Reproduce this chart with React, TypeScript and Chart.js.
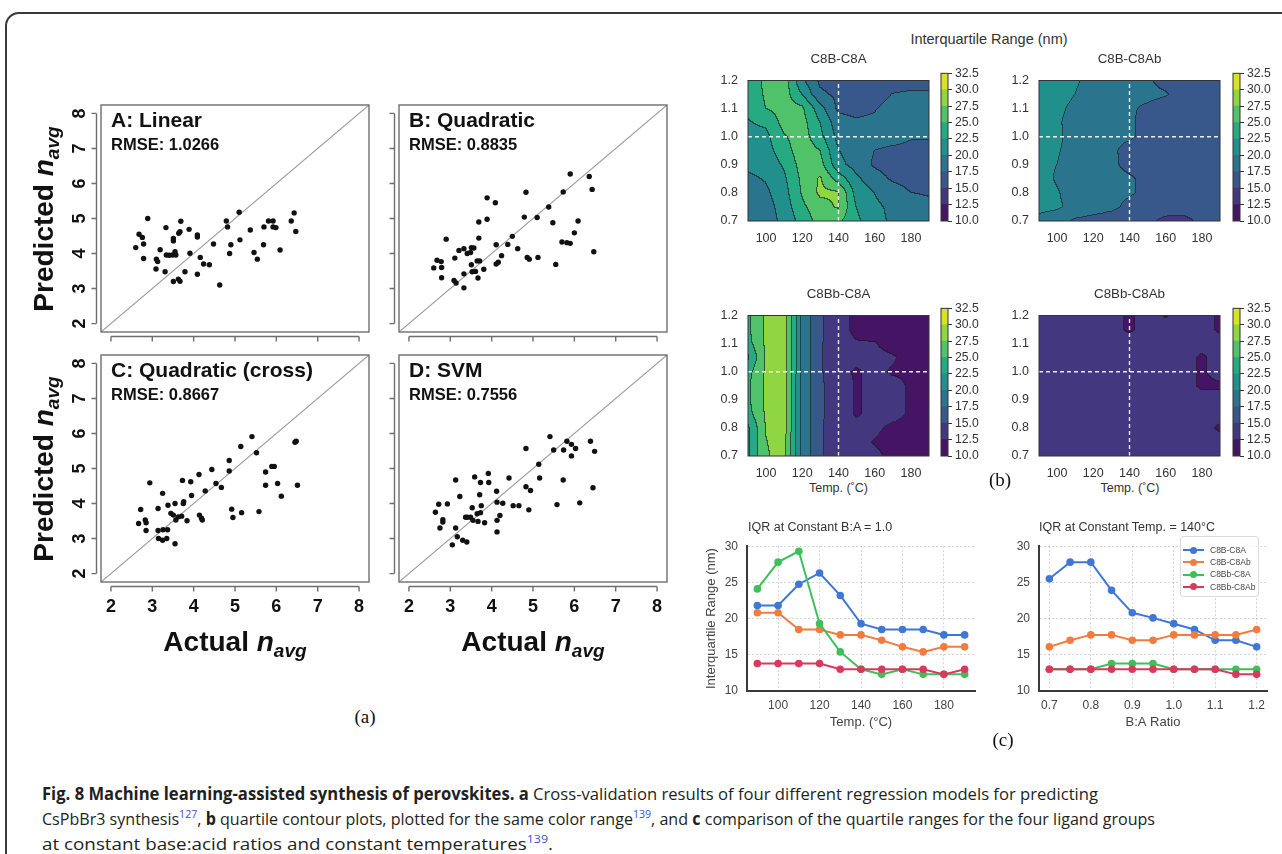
import React, { useEffect, useLayoutEffect, useRef } from 'react';
import { Chart, registerables } from 'chart.js';

Chart.register(...registerables);

/* ================= (a) cross-validation scatter data ================= */
const AXIS_TICKS_A = [2, 3, 4, 5, 6, 7, 8];
const AXIS_MIN_A = 1.76;
const AXIS_MAX_A = 8.24;

const LINEAR_ACTUAL = [2.60, 2.68, 2.76, 2.79, 2.79, 2.89, 3.09, 3.10, 3.13, 3.19, 3.33, 3.31, 3.34, 3.41, 3.49, 3.51, 3.51, 3.55, 3.57, 3.51, 3.63, 3.67, 3.64, 3.69, 3.67, 3.79, 3.89, 3.91, 4.09, 4.09, 4.09, 4.16, 4.24, 4.38, 4.48, 4.63, 4.79, 4.82, 4.87, 4.90, 5.10, 5.12, 5.37, 5.46, 5.54, 5.69, 5.70, 5.81, 5.92, 5.92, 5.99, 6.09, 6.36, 6.43, 6.47];
const LINEAR_PRED = [4.17, 4.55, 4.46, 4.27, 3.86, 5.00, 3.56, 3.84, 3.77, 4.11, 4.74, 3.48, 3.96, 3.95, 3.96, 4.36, 4.43, 4.05, 3.96, 3.20, 3.27, 3.21, 4.58, 4.92, 4.62, 3.48, 4.69, 4.01, 4.53, 4.47, 3.41, 3.89, 3.70, 3.68, 4.27, 3.10, 4.93, 4.76, 4.00, 4.25, 5.18, 4.39, 4.67, 4.03, 3.84, 4.25, 4.76, 4.93, 4.93, 4.76, 4.74, 4.10, 4.93, 5.16, 4.63];

const QUAD_ACTUAL = [2.60, 2.68, 2.78, 2.79, 2.79, 2.90, 3.09, 3.14, 3.11, 3.21, 3.33, 3.33, 3.33, 3.41, 3.49, 3.51, 3.51, 3.53, 3.57, 3.61, 3.65, 3.67, 3.69, 3.69, 3.71, 3.81, 3.89, 3.89, 4.09, 4.11, 4.11, 4.16, 4.24, 4.39, 4.50, 4.63, 4.79, 4.83, 4.86, 4.91, 5.10, 5.12, 5.38, 5.48, 5.55, 5.70, 5.73, 5.82, 5.90, 5.90, 6.00, 6.09, 6.36, 6.43, 6.47];
const QUAD_PRED = [3.59, 3.81, 3.77, 3.60, 3.31, 4.41, 3.23, 3.16, 3.87, 4.09, 4.14, 3.42, 3.02, 4.00, 4.03, 3.68, 4.17, 3.48, 4.16, 3.49, 3.79, 3.30, 4.90, 4.44, 3.79, 3.55, 5.59, 4.98, 5.45, 4.25, 3.70, 3.75, 3.94, 4.26, 4.49, 4.14, 5.04, 5.75, 3.89, 3.84, 5.03, 3.89, 5.33, 4.88, 3.69, 4.33, 5.76, 4.31, 6.27, 4.29, 4.59, 4.93, 6.20, 5.83, 4.05];

const CROSS_ACTUAL = [2.67, 2.72, 2.83, 2.85, 2.85, 2.94, 3.14, 3.14, 3.25, 3.26, 3.37, 3.38, 3.45, 3.51, 3.55, 3.57, 3.63, 3.71, 3.73, 3.75, 3.76, 3.84, 3.93, 3.95, 4.13, 4.14, 4.19, 4.21, 4.28, 4.44, 4.54, 4.67, 4.86, 4.86, 4.92, 4.95, 5.14, 5.16, 5.41, 5.52, 5.58, 5.74, 5.74, 5.89, 5.95, 6.03, 6.12, 6.45, 6.48, 6.51, 3.25, 3.35, 3.55, 3.15];
const CROSS_PRED = [3.43, 3.83, 3.53, 3.45, 3.23, 4.59, 3.86, 3.23, 4.29, 3.25, 3.25, 3.95, 3.72, 3.67, 4.00, 3.53, 3.62, 3.64, 4.66, 4.00, 4.05, 3.51, 4.62, 4.23, 4.83, 3.67, 3.58, 3.53, 4.36, 4.97, 4.57, 4.46, 5.23, 4.93, 3.84, 3.60, 5.63, 3.74, 5.91, 5.45, 3.77, 4.90, 4.52, 5.06, 5.06, 4.57, 4.21, 5.75, 5.78, 4.52, 2.95, 3.00, 2.85, 3.00];

const SVM_ACTUAL = [2.64, 2.72, 2.82, 2.82, 2.93, 3.13, 3.13, 3.17, 3.23, 3.37, 3.41, 3.49, 3.53, 3.55, 3.59, 3.65, 3.67, 3.71, 3.73, 3.73, 3.75, 3.83, 3.92, 3.93, 4.12, 4.13, 4.13, 4.13, 4.20, 4.27, 4.42, 4.52, 4.66, 4.83, 4.83, 4.90, 4.94, 5.14, 5.16, 5.41, 5.50, 5.58, 5.73, 5.74, 5.82, 5.93, 5.93, 6.03, 6.13, 6.39, 6.45, 6.49, 3.05, 3.30, 3.40, 2.75];
const SVM_PRED = [3.75, 3.98, 3.54, 3.47, 3.99, 4.67, 3.30, 3.05, 4.20, 3.61, 3.61, 3.61, 3.88, 3.52, 4.76, 3.71, 3.49, 4.25, 4.60, 3.74, 3.94, 3.45, 4.86, 4.60, 4.35, 4.04, 3.52, 3.19, 3.66, 4.01, 4.73, 3.94, 3.94, 5.57, 4.48, 3.82, 4.37, 5.12, 4.73, 5.91, 5.53, 3.97, 4.67, 5.53, 5.78, 5.69, 5.36, 5.57, 4.02, 5.78, 4.45, 5.49, 2.82, 2.95, 2.90, 3.30];

const PANEL_TITLES = ['A: Linear', 'B: Quadratic', 'C: Quadratic (cross)', 'D: SVM'];
const PANEL_RMSE = ['RMSE: 1.0266', 'RMSE: 0.8835', 'RMSE: 0.8667', 'RMSE: 0.7556'];

/* ================= (b) contour data (IQR, nm) ================= */
const TEMPS = [90, 100, 110, 120, 130, 140, 150, 160, 170, 180, 190];
const MAP_RATIOS = [1.2, 1.15, 1.1, 1.05, 1.0, 0.95, 0.9, 0.85, 0.8, 0.75, 0.7]; // rows, top to bottom
const LEVELS = [10, 12.5, 15, 17.5, 20, 22.5, 25, 27.5, 30, 32.5];
const LEVEL_COLORS = ['#451465', '#433880', '#38588c', '#2b748e', '#21908d', '#26aa82', '#50c26a', '#90d542', '#d8e22b'];
const MAP_X_TICKS = [100, 120, 140, 160, 180];
const MAP_Y_TICKS = [0.7, 0.8, 0.9, 1.0, 1.1, 1.2];
const CUT_TEMP = 140;
const CUT_RATIO = 1.0;

const GROUPS = ['C8B-C8A', 'C8B-C8Ab', 'C8Bb-C8A', 'C8Bb-C8Ab'];

const IQR_C8B_C8A = [
  [23.5, 25.5, 26.5, 20.5, 17.0, 16.1, 16.0, 16.0, 16.0, 16.0, 16.0],
  [23.5, 25.3, 26.3, 22.5, 18.0, 17.0, 16.5, 16.3, 17.6, 18.0, 18.0],
  [23.0, 25.0, 26.0, 25.5, 21.0, 17.0, 16.8, 17.3, 18.5, 18.5, 18.5],
  [22.3, 23.0, 25.8, 26.0, 22.5, 18.5, 17.8, 18.0, 18.3, 18.3, 18.3],
  [21.8, 21.8, 24.75, 26.3, 23.2, 19.3, 18.5, 18.5, 18.5, 17.75, 17.75],
  [21.0, 21.5, 23.8, 26.5, 25.0, 20.1, 18.5, 17.5, 17.0, 16.8, 16.8],
  [20.5, 21.0, 22.8, 26.0, 26.0, 20.8, 19.0, 17.2, 16.5, 16.5, 16.5],
  [19.5, 20.2, 22.0, 25.5, 27.8, 23.9, 20.5, 18.5, 17.2, 16.8, 16.8],
  [18.5, 19.5, 21.5, 25.2, 28.0, 27.8, 21.5, 20.0, 18.5, 17.5, 17.3],
  [18.0, 19.0, 21.0, 24.5, 26.5, 27.8, 22.5, 20.5, 19.5, 18.5, 18.0],
  [18.0, 19.0, 20.5, 23.5, 26.0, 25.5, 23.0, 21.0, 19.5, 19.0, 18.5],
];
const IQR_C8B_C8AB = [
  [21.0, 20.8, 20.2, 19.5, 19.0, 18.5, 17.8, 16.8, 16.5, 16.5, 16.5],
  [21.0, 20.8, 20.0, 19.3, 18.5, 17.75, 18.0, 17.7, 16.5, 16.5, 16.5],
  [20.8, 20.5, 19.5, 19.0, 18.5, 17.75, 17.2, 16.5, 16.3, 16.3, 16.3],
  [20.6, 20.3, 19.2, 18.8, 18.2, 17.75, 17.0, 16.3, 16.0, 16.0, 16.0],
  [20.8, 20.8, 18.5, 18.5, 17.75, 17.75, 17.0, 16.1, 15.4, 16.1, 16.1],
  [20.6, 20.3, 18.8, 18.5, 17.8, 17.0, 16.5, 16.2, 16.0, 16.0, 16.0],
  [20.6, 20.0, 18.8, 18.3, 17.9, 17.0, 16.5, 16.2, 16.0, 16.0, 16.0],
  [20.8, 19.8, 18.8, 18.3, 18.0, 17.75, 17.0, 16.3, 16.0, 16.0, 16.0],
  [21.0, 20.2, 19.0, 18.5, 18.0, 17.75, 17.0, 16.5, 16.2, 16.0, 16.0],
  [21.0, 20.5, 19.0, 18.5, 18.0, 17.0, 16.5, 16.3, 16.0, 16.0, 16.0],
  [19.0, 18.2, 17.2, 16.8, 16.5, 16.1, 15.5, 14.4, 14.4, 15.5, 16.0],
];
const IQR_C8BB_C8A = [
  [24.5, 28.0, 29.0, 19.5, 15.5, 13.0, 12.2, 11.8, 11.8, 11.8, 11.8],
  [24.5, 28.0, 29.0, 19.5, 15.5, 13.0, 12.2, 11.8, 11.8, 11.8, 11.8],
  [24.0, 27.9, 29.2, 19.4, 15.4, 13.0, 12.6, 12.6, 11.8, 11.8, 11.8],
  [22.0, 27.8, 29.2, 19.4, 15.4, 13.0, 13.0, 13.0, 12.7, 11.8, 11.8],
  [24.1, 27.8, 29.3, 19.3, 15.4, 13.0, 12.3, 13.0, 12.3, 12.3, 12.3],
  [24.5, 28.0, 29.2, 19.3, 15.4, 13.8, 12.3, 13.0, 13.0, 12.3, 12.0],
  [24.5, 28.0, 29.2, 19.3, 15.4, 13.8, 12.3, 13.0, 13.0, 12.3, 12.0],
  [24.0, 27.8, 29.0, 19.3, 15.4, 13.8, 12.3, 13.0, 13.0, 12.3, 12.0],
  [22.0, 27.6, 28.8, 19.5, 15.5, 13.0, 13.0, 12.8, 12.2, 12.0, 12.0],
  [21.8, 27.4, 28.5, 19.5, 15.5, 13.0, 13.0, 12.4, 12.0, 12.0, 12.0],
  [22.0, 27.2, 28.5, 19.5, 15.5, 13.0, 13.0, 12.8, 12.2, 12.0, 12.0],
];
const IQR_C8BB_C8AB = [
  [13.8, 13.8, 13.8, 13.8, 13.0, 12.3, 13.0, 12.4, 13.0, 13.0, 12.3],
  [13.8, 13.8, 13.8, 13.8, 13.0, 12.3, 13.0, 13.0, 13.0, 13.0, 12.3],
  [13.8, 13.8, 13.8, 13.8, 13.0, 13.0, 13.0, 13.0, 13.0, 13.0, 13.0],
  [13.8, 13.8, 13.8, 13.8, 13.0, 13.0, 13.0, 13.0, 13.0, 12.3, 13.0],
  [13.8, 13.8, 13.8, 13.8, 13.0, 13.0, 13.0, 13.0, 13.0, 12.3, 13.0],
  [13.8, 13.8, 13.8, 13.8, 13.0, 13.0, 13.0, 13.0, 13.0, 12.3, 12.3],
  [13.8, 13.8, 13.8, 13.8, 13.0, 13.0, 13.0, 13.0, 13.0, 13.0, 13.0],
  [13.8, 13.8, 13.8, 13.8, 13.0, 13.0, 13.0, 13.0, 13.0, 13.0, 13.0],
  [13.8, 13.8, 13.8, 13.8, 13.0, 13.0, 13.0, 13.0, 13.0, 13.0, 12.3],
  [13.8, 13.8, 13.8, 13.8, 13.0, 13.0, 13.0, 13.0, 13.0, 13.0, 13.0],
  [13.8, 13.8, 13.8, 13.8, 13.0, 13.0, 13.0, 13.0, 13.0, 13.0, 13.0],
];
const IQR_MAPS = [IQR_C8B_C8A, IQR_C8B_C8AB, IQR_C8BB_C8A, IQR_C8BB_C8AB];

/* ================= (c) line charts ================= */
const GROUP_COLORS = ['#3f77d6', '#f07d3f', '#3fbf5a', '#d83a5e'];
const LINE_Y_TICKS = [10, 15, 20, 25, 30];
const TEMP_TICKS = [100, 120, 140, 160, 180];
const RATIO_TICKS = [0.7, 0.8, 0.9, 1.0, 1.1, 1.2];

const FONT = '"Liberation Sans", Arial, Helvetica, sans-serif';
const SERIF = '"Liberation Serif", "DejaVu Serif", serif';
const CAPTION_FONT = '"Open Sans", "Liberation Sans", sans-serif';

/* ================= helpers ================= */
function hexRgb(h: string) {
  const n = parseInt(h.slice(1), 16);
  return [(n >> 16) & 255, (n >> 8) & 255, n & 255];
}
const LEVEL_RGB = LEVEL_COLORS.map(hexRgb);

function sampleGrid(grid: number[][], t: number, r: number) {
  const nT = TEMPS.length, nR = MAP_RATIOS.length;
  let fx = ((t - TEMPS[0]) / (TEMPS[nT - 1] - TEMPS[0])) * (nT - 1);
  let fy = ((MAP_RATIOS[0] - r) / (MAP_RATIOS[0] - MAP_RATIOS[nR - 1])) * (nR - 1);
  fx = Math.max(0, Math.min(nT - 1, fx));
  fy = Math.max(0, Math.min(nR - 1, fy));
  const i = Math.min(Math.floor(fx), nT - 2);
  const j = Math.min(Math.floor(fy), nR - 2);
  const u = fx - i, v = fy - j;
  return grid[j][i] * (1 - u) * (1 - v) + grid[j][i + 1] * u * (1 - v) + grid[j + 1][i] * (1 - u) * v + grid[j + 1][i + 1] * u * v;
}
function bandOf(v: number) {
  let b = 0;
  while (b < LEVEL_COLORS.length - 1 && v >= LEVELS[b + 1]) b++;
  return b;
}
function rowAt(grid: number[][], ratio: number) {
  const k = MAP_RATIOS.findIndex((r) => Math.abs(r - ratio) < 1e-9);
  return grid[k];
}
function colAtAscending(grid: number[][], temp: number) {
  const k = TEMPS.indexOf(temp);
  return grid.map((row) => row[k]).reverse();
}
const RATIOS_ASC = [...MAP_RATIOS].reverse();

function boxPlugin(color: string, width: number) {
  return {
    id: 'box',
    afterDraw(chart: any) {
      const { ctx, chartArea: ca } = chart;
      ctx.save();
      ctx.strokeStyle = color;
      ctx.lineWidth = width;
      ctx.strokeRect(ca.left, ca.top, ca.right - ca.left, ca.bottom - ca.top);
      ctx.restore();
    },
  };
}

function heatPlugin(grid: number[][]) {
  return {
    id: 'heat',
    beforeDatasetsDraw(chart: any) {
      const { ctx, chartArea: ca, scales } = chart;
      const x0 = Math.round(ca.left), y0 = Math.round(ca.top);
      const w = Math.round(ca.right) - x0, h = Math.round(ca.bottom) - y0;
      const bands = new Int16Array(w * h);
      for (let j = 0; j < h; j++) {
        const yv = scales.y.getValueForPixel(y0 + j + 0.5);
        for (let i = 0; i < w; i++) {
          const xv = scales.x.getValueForPixel(x0 + i + 0.5);
          bands[j * w + i] = bandOf(sampleGrid(grid, xv, yv));
        }
      }
      const img = ctx.createImageData(w, h);
      for (let j = 0; j < h; j++) {
        for (let i = 0; i < w; i++) {
          const k = j * w + i;
          const b = bands[k];
          let [r, g, bl] = LEVEL_RGB[b];
          const edge = (i < w - 1 && bands[k + 1] !== b) || (j < h - 1 && bands[k + w] !== b);
          if (edge) {
            r = r * 0.35 + 25 * 0.65;
            g = g * 0.35 + 25 * 0.65;
            bl = bl * 0.35 + 30 * 0.65;
          }
          img.data[k * 4] = r;
          img.data[k * 4 + 1] = g;
          img.data[k * 4 + 2] = bl;
          img.data[k * 4 + 3] = 255;
        }
      }
      ctx.putImageData(img, x0, y0);
    },
  };
}

function rPlotPlugin(title: string, rmse: string, showX: boolean, showY: boolean) {
  return {
    id: 'rplot',
    afterDraw(chart: any) {
      const { ctx, chartArea: ca, scales } = chart;
      const xs = scales.x, ys = scales.y;
      const first = AXIS_TICKS_A[0], last = AXIS_TICKS_A[AXIS_TICKS_A.length - 1];
      ctx.save();
      ctx.strokeStyle = '#6e6e6e';
      ctx.lineWidth = 1.4;
      ctx.strokeRect(ca.left, ca.top, ca.right - ca.left, ca.bottom - ca.top);
      const ay = ca.bottom + 4.5;
      const ax = ca.left - 4.5;
      ctx.beginPath();
      ctx.moveTo(xs.getPixelForValue(first), ay);
      ctx.lineTo(xs.getPixelForValue(last), ay);
      AXIS_TICKS_A.forEach((v) => {
        const p = xs.getPixelForValue(v);
        ctx.moveTo(p, ay);
        ctx.lineTo(p, ay + 5);
      });
      ctx.moveTo(ax, ys.getPixelForValue(first));
      ctx.lineTo(ax, ys.getPixelForValue(last));
      AXIS_TICKS_A.forEach((v) => {
        const p = ys.getPixelForValue(v);
        ctx.moveTo(ax, p);
        ctx.lineTo(ax - 5, p);
      });
      ctx.stroke();
      ctx.fillStyle = '#111';
      ctx.font = 'bold 18px ' + FONT;
      if (showX) {
        ctx.textAlign = 'center';
        ctx.textBaseline = 'middle';
        AXIS_TICKS_A.forEach((v) => ctx.fillText(String(v), xs.getPixelForValue(v), ca.bottom + 25));
      }
      if (showY) {
        AXIS_TICKS_A.forEach((v) => {
          ctx.save();
          ctx.translate(ca.left - 21, ys.getPixelForValue(v));
          ctx.rotate(-Math.PI / 2);
          ctx.textAlign = 'center';
          ctx.textBaseline = 'middle';
          ctx.fillText(String(v), 0, 0);
          ctx.restore();
        });
      }
      ctx.textAlign = 'left';
      ctx.textBaseline = 'alphabetic';
      ctx.font = 'bold 21px ' + FONT;
      ctx.fillText(title, ca.left + 10, ca.top + 22);
      ctx.font = 'bold 16.5px ' + FONT;
      ctx.fillText(rmse, ca.left + 10, ca.top + 44.5);
      ctx.restore();
    },
  };
}

const NO_INTERACT = { legend: { display: false }, tooltip: { enabled: false } };

function scatterConfig(xs: number[], ys: number[], idx: number, showX: boolean, showY: boolean, pad: any) {
  return {
    type: 'scatter',
    data: {
      datasets: [
        {
          data: xs.map((x, i) => ({ x, y: ys[i] })),
          pointRadius: 2.7,
          pointBackgroundColor: '#111',
          pointBorderWidth: 0,
        },
        {
          data: [
            { x: AXIS_MIN_A, y: AXIS_MIN_A },
            { x: AXIS_MAX_A, y: AXIS_MAX_A },
          ],
          showLine: true,
          borderColor: '#9c9c9c',
          borderWidth: 1.1,
          pointRadius: 0,
        },
      ],
    },
    options: {
      responsive: false,
      animation: false,
      events: [],
      layout: { padding: pad },
      plugins: NO_INTERACT,
      scales: {
        x: { type: 'linear', display: false, min: AXIS_MIN_A, max: AXIS_MAX_A },
        y: { type: 'linear', display: false, min: AXIS_MIN_A, max: AXIS_MAX_A },
      },
    },
    plugins: [rPlotPlugin(PANEL_TITLES[idx], PANEL_RMSE[idx], showX, showY)],
  };
}

function mapConfig(grid: number[][]) {
  const dash = {
    showLine: true,
    borderColor: 'rgba(255,255,255,0.9)',
    borderWidth: 1.4,
    borderDash: [4, 3],
    pointRadius: 0,
  };
  return {
    type: 'scatter',
    data: {
      datasets: [
        { ...dash, data: [{ x: CUT_TEMP, y: MAP_RATIOS[MAP_RATIOS.length - 1] }, { x: CUT_TEMP, y: MAP_RATIOS[0] }] },
        { ...dash, data: [{ x: TEMPS[0], y: CUT_RATIO }, { x: TEMPS[TEMPS.length - 1], y: CUT_RATIO }] },
      ],
    },
    options: {
      responsive: false,
      animation: false,
      events: [],
      layout: { padding: { top: 6, right: 8, left: 0, bottom: 0 } },
      plugins: NO_INTERACT,
      scales: {
        x: {
          type: 'linear',
          min: TEMPS[0],
          max: TEMPS[TEMPS.length - 1],
          afterBuildTicks: (s: any) => {
            s.ticks = MAP_X_TICKS.map((v) => ({ value: v }));
          },
          afterFit: (s: any) => {
            s.height = 24;
          },
          grid: { display: false, drawTicks: false },
          border: { display: false },
          ticks: { padding: 10, color: '#333', font: { family: FONT, size: 12.5 }, maxRotation: 0, autoSkip: false },
        },
        y: {
          type: 'linear',
          min: MAP_RATIOS[MAP_RATIOS.length - 1],
          max: MAP_RATIOS[0],
          afterBuildTicks: (s: any) => {
            s.ticks = MAP_Y_TICKS.map((v) => ({ value: v }));
          },
          afterFit: (s: any) => {
            s.width = 42;
          },
          grid: { display: false, drawTicks: false },
          border: { display: false },
          ticks: { padding: 10, color: '#333', font: { family: FONT, size: 12.5 }, autoSkip: false, callback: (v: any) => Number(v).toFixed(1) },
        },
      },
    },
    plugins: [heatPlugin(grid), boxPlugin('#333', 1)],
  };
}

function colorbarConfig() {
  return {
    type: 'bar',
    data: {
      labels: [''],
      datasets: LEVEL_COLORS.map((c, i) => ({
        data: [[LEVELS[i], LEVELS[i + 1]]],
        backgroundColor: c,
        borderWidth: 0,
        barPercentage: 1,
        categoryPercentage: 1,
        grouped: false,
      })),
    },
    options: {
      responsive: false,
      animation: false,
      events: [],
      layout: { padding: { top: 6, left: 2, bottom: 24, right: 0 } },
      plugins: NO_INTERACT,
      scales: {
        x: { display: false },
        y: {
          position: 'right',
          min: LEVELS[0],
          max: LEVELS[LEVELS.length - 1],
          afterBuildTicks: (s: any) => {
            s.ticks = LEVELS.map((v) => ({ value: v }));
          },
          afterFit: (s: any) => {
            s.width = 42;
          },
          grid: { display: true, drawOnChartArea: false, drawTicks: true, tickLength: 4, color: '#333', lineWidth: 1 },
          border: { display: false },
          ticks: { padding: 3, color: '#333', font: { family: FONT, size: 12.2 }, autoSkip: false, callback: (v: any) => Number(v).toFixed(1) },
        },
      },
    },
    plugins: [boxPlugin('#333', 1)],
  };
}

function lineConfig(xVals: number[], series: number[][], xMin: number, xMax: number, xTicks: number[], xTitle: string, yTitle: string | null, yWidth: number, xFmt: (v: number) => string) {
  const gridStyle = { color: 'rgba(0,0,0,0.16)', lineWidth: 1, drawTicks: false };
  const border = { display: true, color: '#3a3a3a', width: 2, dash: [2, 2] };
  return {
    type: 'scatter',
    data: {
      datasets: series.map((s, k) => ({
        label: GROUPS[k],
        data: xVals.map((x, i) => ({ x, y: s[i] })),
        showLine: true,
        borderColor: GROUP_COLORS[k],
        backgroundColor: GROUP_COLORS[k],
        pointBackgroundColor: GROUP_COLORS[k],
        borderWidth: 2,
        pointRadius: 3.8,
        pointBorderWidth: 0,
        order: series.length - 1 - k,
      })),
    },
    options: {
      responsive: false,
      animation: false,
      events: [],
      layout: { padding: { top: 8, right: 10, left: 0, bottom: 0 } },
      plugins: NO_INTERACT,
      scales: {
        x: {
          type: 'linear',
          min: xMin,
          max: xMax,
          afterBuildTicks: (s: any) => {
            s.ticks = xTicks.map((v) => ({ value: v }));
          },
          afterFit: (s: any) => {
            s.height = 43;
          },
          grid: gridStyle,
          border,
          ticks: { padding: 7, color: '#444', font: { family: FONT, size: 12 }, maxRotation: 0, autoSkip: false, callback: (v: any) => xFmt(Number(v)) },
          title: { display: true, text: xTitle, color: '#444', font: { family: FONT, size: 13 }, padding: { top: 4, bottom: 4 } },
        },
        y: {
          type: 'linear',
          min: LINE_Y_TICKS[0],
          max: LINE_Y_TICKS[LINE_Y_TICKS.length - 1],
          afterBuildTicks: (s: any) => {
            s.ticks = LINE_Y_TICKS.map((v) => ({ value: v }));
          },
          afterFit: (s: any) => {
            s.width = yWidth;
          },
          grid: gridStyle,
          border,
          ticks: { padding: 9, color: '#444', font: { family: FONT, size: 12 }, autoSkip: false },
          title: yTitle
            ? { display: true, text: yTitle, color: '#444', font: { family: FONT, size: 13 }, padding: { top: 4, bottom: 4 } }
            : { display: false },
        },
      },
    },
  };
}

/* ================= components ================= */
function ChartBox({ x, y, w, h, make }: any) {
  const ref = useRef<HTMLCanvasElement>(null);
  useEffect(() => {
    const c = new Chart(ref.current as HTMLCanvasElement, make());
    return () => c.destroy();
  }, []);
  return <canvas ref={ref} width={w} height={h} style={{ position: 'absolute', left: x, top: y, width: w, height: h }} />;
}

function Label({ x, y, size, align = 'left', weight = 400, color = '#222', family = FONT, k = 0.8465, children }: any) {
  const tx = align === 'center' ? '-50%' : align === 'right' ? '-100%' : '0';
  return (
    <div
      style={{
        position: 'absolute',
        left: x,
        top: y - k * size,
        fontFamily: family,
        fontSize: size,
        fontWeight: weight,
        color,
        lineHeight: 1,
        whiteSpace: 'nowrap',
        transform: `translateX(${tx})`,
      }}
    >
      {children}
    </div>
  );
}

function NAvg() {
  return (
    <>
      <i>n</i>
      <span style={{ fontSize: '0.68em', fontStyle: 'italic', position: 'relative', top: '0.3em' }}>avg</span>
    </>
  );
}

function RotLabel({ cx, cy, size, children }: any) {
  return (
    <div
      style={{
        position: 'absolute',
        left: cx,
        top: cy,
        transform: 'translate(-50%,-50%) rotate(-90deg)',
        fontFamily: FONT,
        fontWeight: 700,
        fontSize: size,
        lineHeight: 1,
        whiteSpace: 'nowrap',
        color: '#111',
      }}
    >
      {children}
    </div>
  );
}

function CaptionLine({ x, baseline, right, children }: any) {
  const ref = useRef<HTMLDivElement>(null);
  const fs = 17;
  useLayoutEffect(() => {
    const el = ref.current;
    if (!el) return;
    el.style.transform = 'none';
    const w = el.getBoundingClientRect().width;
    if (w > 0) el.style.transform = `scaleX(${(right - x) / w})`;
  }, []);
  return (
    <div
      ref={ref}
      style={{
        position: 'absolute',
        left: x,
        top: baseline - 0.888 * fs,
        width: 'max-content',
        fontFamily: CAPTION_FONT,
        fontSize: fs,
        lineHeight: 1,
        whiteSpace: 'nowrap',
        color: '#231f20',
        transformOrigin: '0 0',
      }}
    >
      {children}
    </div>
  );
}

const Sup = ({ children }: any) => (
  <span style={{ color: '#3b4fe0', fontSize: '0.66em', position: 'relative', top: '-0.62em' }}>{children}</span>
);

export default function App() {
  // panel (a) boxes: [left, top, right, bottom]
  const aBoxes = [
    [101, 105, 369, 332],
    [399, 105, 667, 332],
    [101, 355, 369, 582],
    [399, 355, 667, 582],
  ];
  const aData = [
    [LINEAR_ACTUAL, LINEAR_PRED],
    [QUAD_ACTUAL, QUAD_PRED],
    [CROSS_ACTUAL, CROSS_PRED],
    [SVM_ACTUAL, SVM_PRED],
  ];
  // map chart areas
  const mapBoxes = [
    [748, 69],
    [1039, 69],
    [748, 304],
    [1039, 304],
  ];
  const cbLefts = [939, 1231, 939, 1231];

  const rowSeries = IQR_MAPS.map((g) => rowAt(g, CUT_RATIO));
  const colSeries = IQR_MAPS.map((g) => colAtAscending(g, CUT_TEMP));

  return (
    <div style={{ position: 'absolute', left: 0, top: 0, width: 1282, height: 854, overflow: 'hidden', background: '#fff' }}>
      <div
        style={{
          position: 'absolute',
          left: 5,
          top: 12,
          width: 1330,
          height: 900,
          border: '2px solid #3a3a3a',
          borderRadius: 14,
          boxSizing: 'border-box',
        }}
      />

      {/* ---------- (a) ---------- */}
      {aBoxes.map((b, i) => {
        const padL = 75, padT = 5, padR = 5, padB = 45;
        return (
          <ChartBox
            key={'a' + i}
            x={b[0] - padL}
            y={b[1] - padT}
            w={b[2] - b[0] + padL + padR}
            h={b[3] - b[1] + padT + padB}
            make={() => scatterConfig(aData[i][0], aData[i][1], i, i >= 2, i % 2 === 0, { left: padL, top: padT, right: padR, bottom: padB })}
          />
        );
      })}
      <RotLabel cx={44} cy={218.5} size={28}>
        Predicted <NAvg />
      </RotLabel>
      <RotLabel cx={44} cy={468.5} size={28}>
        Predicted <NAvg />
      </RotLabel>
      <Label x={235} y={652} size={28} weight={700} align="center" color="#111">
        Actual <NAvg />
      </Label>
      <Label x={533} y={652} size={28} weight={700} align="center" color="#111">
        Actual <NAvg />
      </Label>
      <Label x={365} y={723} size={19} align="center" family={SERIF} k={0.8375} color="#111">
        (a)
      </Label>

      {/* ---------- (b) ---------- */}
      <Label x={989} y={44.5} size={14.5} align="center" color="#333">
        Interquartile Range (nm)
      </Label>
      {mapBoxes.map((m, i) => (
        <React.Fragment key={'m' + i}>
          <ChartBox x={m[0] - 42} y={m[1] - 6} w={(m[0] + 181 + 8) - (m[0] - 42)} h={182} make={() => mapConfig(IQR_MAPS[i])} />
          <ChartBox x={cbLefts[i]} y={m[1] - 6} w={51} h={182} make={() => colorbarConfig()} />
          <Label x={m[0] + 90.5} y={m[1] - 6} size={13.3} align="center" color="#333">
            {GROUPS[i]}
          </Label>
        </React.Fragment>
      ))}
      <Label x={838.5} y={492.5} size={12.5} align="center" color="#333">
        Temp. (˚C)
      </Label>
      <Label x={1130} y={492.5} size={12.5} align="center" color="#333">
        Temp. (˚C)
      </Label>
      <Label x={1000} y={486} size={19} align="center" family={SERIF} k={0.8375} color="#111">
        (b)
      </Label>

      {/* ---------- (c) ---------- */}
      <ChartBox
        x={700}
        y={530}
        w={285}
        h={204}
        make={() => lineConfig(TEMPS, rowSeries, 85, 195, TEMP_TICKS, 'Temp. (°C)', 'Interquartile Range (nm)', 47, (v) => String(v))}
      />
      <ChartBox
        x={1009}
        y={530}
        w={268}
        h={204}
        make={() => lineConfig(RATIOS_ASC, colSeries, 0.675, 1.225, RATIO_TICKS, 'B:A Ratio', null, 30, (v) => v.toFixed(1))}
      />
      <Label x={748} y={531.5} size={12.5} color="#333">
        IQR at Constant B:A = 1.0
      </Label>
      <Label x={1039} y={531.5} size={12.5} color="#333">
        IQR at Constant Temp. = 140°C
      </Label>
      <div
        style={{
          position: 'absolute',
          left: 1180,
          top: 536,
          width: 79,
          height: 61,
          border: '1px solid #dcdcdc',
          borderRadius: 3,
          background: 'rgba(255,255,255,0.85)',
          boxSizing: 'border-box',
        }}
      />
      {GROUPS.map((g, k) => {
        const cy = 550 + k * 12.3;
        return (
          <React.Fragment key={'lg' + k}>
            <div style={{ position: 'absolute', left: 1183, top: cy - 1, width: 21, height: 2, background: GROUP_COLORS[k] }} />
            <div style={{ position: 'absolute', left: 1190, top: cy - 3.5, width: 7, height: 7, borderRadius: '50%', background: GROUP_COLORS[k] }} />
            <Label x={1210} y={cy + 3} size={8.5} color="#444">
              {g}
            </Label>
          </React.Fragment>
        );
      })}
      <Label x={1003} y={746} size={19} align="center" family={SERIF} k={0.8375} color="#111">
        (c)
      </Label>

      {/* ---------- caption ---------- */}
      <CaptionLine x={42} baseline={800} right={1098}>
        <b>Fig. 8 Machine learning-assisted synthesis of perovskites.</b> <b>a</b> Cross-validation results of four different regression models for predicting
      </CaptionLine>
      <CaptionLine x={42} baseline={825} right={1155}>
        CsPbBr3 synthesis<Sup>127</Sup>, <b>b</b> quartile contour plots, plotted for the same color range<Sup>139</Sup>, and <b>c</b> comparison of the quartile ranges for the four ligand groups
      </CaptionLine>
      <CaptionLine x={42} baseline={850} right={553}>
        at constant base:acid ratios and constant temperatures<Sup>139</Sup>.
      </CaptionLine>
    </div>
  );
}
